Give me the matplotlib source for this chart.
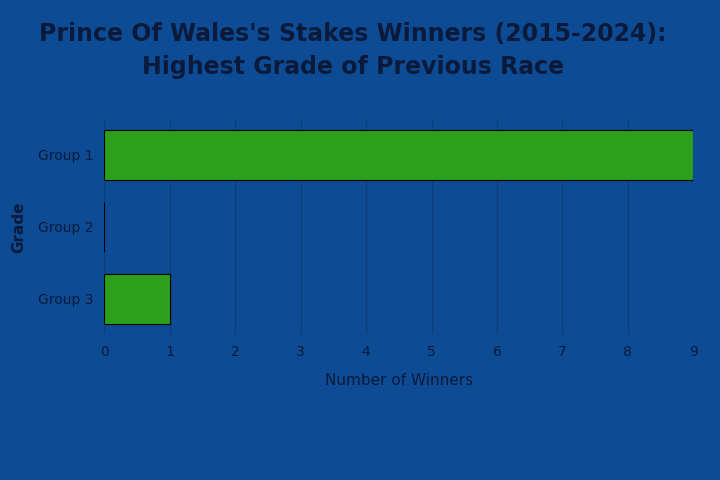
import matplotlib.pyplot as plt

grades = ["Group 1", "Group 2", "Group 3"]
winners = [9, 0, 1]
x_ticks = list(range(0, 10))

BG = "#0d4c94"
BAR = "#2ca01c"
TEXT = "#0b1a3a"

fig = plt.figure(figsize=(7.2, 4.8), dpi=100, facecolor=BG)
ax = fig.add_axes([0.145, 0.305, 0.818, 0.445], facecolor=BG)

ax.barh(grades, winners, height=0.7, color=BAR, edgecolor="black", linewidth=0.8, zorder=3)
ax.invert_yaxis()
ax.set_xlim(0, 9)
ax.set_xticks(x_ticks)
ax.grid(axis="x", color="#0a3f7d", linewidth=1, zorder=0)
for s in ax.spines.values():
    s.set_visible(False)
ax.tick_params(length=0, colors=TEXT, labelsize=10, pad=8)

ax.set_xlabel("Number of Winners", fontsize=11, color=TEXT, labelpad=10)
ax.set_ylabel("Grade", fontsize=11, color=TEXT, fontweight="bold", labelpad=8)
fig.suptitle("Prince Of Wales's Stakes Winners (2015-2024):\nHighest Grade of Previous Race",
             x=0.49, y=0.955, fontsize=17, fontweight="bold", color=TEXT, linespacing=1.5)

fig.savefig("out.png", dpi=100, facecolor=BG)
